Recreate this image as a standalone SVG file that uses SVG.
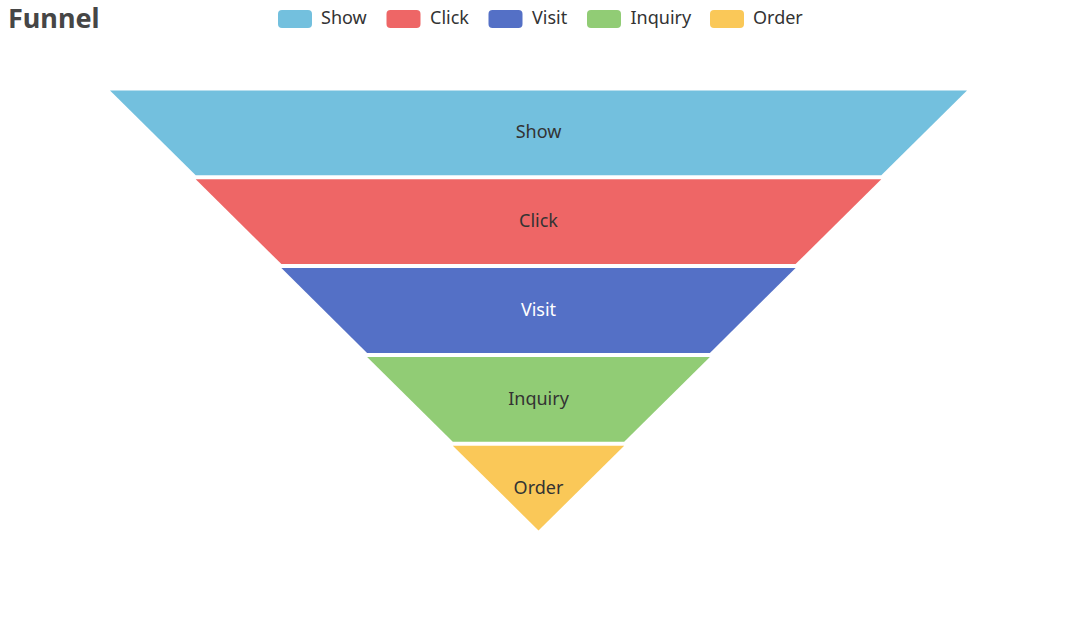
<svg xmlns="http://www.w3.org/2000/svg" width="1077" height="622" viewBox="0 0 1077 622">
<style>
.title{font-family:"Noto Sans","Open Sans",sans-serif;font-size:27px;font-weight:bold;fill:#464646}
.leg{font-family:"Noto Sans","Open Sans",sans-serif;font-size:18px;fill:#333}
.lbl{font-family:"Noto Sans","Open Sans",sans-serif;font-size:18px;fill:#333;text-anchor:middle}
</style>
<rect width="1077" height="622" fill="#fff"/>
<text class="title" x="8" y="28">Funnel</text>
<g id="legend">
<rect x="278" y="10" width="34" height="18" rx="4" fill="#73c0de"/><text class="leg" x="321" y="23.5">Show</text>
<rect x="386.5" y="10" width="34" height="18" rx="4" fill="#ee6666"/><text class="leg" x="430" y="23.5">Click</text>
<rect x="488.5" y="10" width="34" height="18" rx="4" fill="#5470c6"/><text class="leg" x="532" y="23.5">Visit</text>
<rect x="587" y="10" width="34" height="18" rx="4" fill="#91cc75"/><text class="leg" x="630.5" y="23.5">Inquiry</text>
<rect x="710" y="10" width="34" height="18" rx="4" fill="#fac858"/><text class="leg" x="753" y="23.5">Order</text>
</g>
<g id="show"><polygon points="110,90.5 967,90.5 881.3,175.3 195.7,175.3" fill="#73c0de"/><text class="lbl" x="538.5" y="138">Show</text></g>
<g id="click"><polygon points="195.7,179.3 881.3,179.3 795.6,264.1 281.4,264.1" fill="#ee6666"/><text class="lbl" x="538.5" y="227">Click</text></g>
<g id="visit"><polygon points="281.4,268.1 795.6,268.1 709.9,352.9 367.1,352.9" fill="#5470c6"/><text class="lbl" x="538.5" y="316" style="fill:#fff">Visit</text></g>
<g id="inquiry"><polygon points="367.1,356.9 709.9,356.9 624.2,441.7 452.8,441.7" fill="#91cc75"/><text class="lbl" x="538.5" y="405">Inquiry</text></g>
<g id="order"><polygon points="452.8,445.7 624.2,445.7 538.5,530.5" fill="#fac858"/><text class="lbl" x="538.5" y="494">Order</text></g>
<g id="connectors"></g>
</svg>
